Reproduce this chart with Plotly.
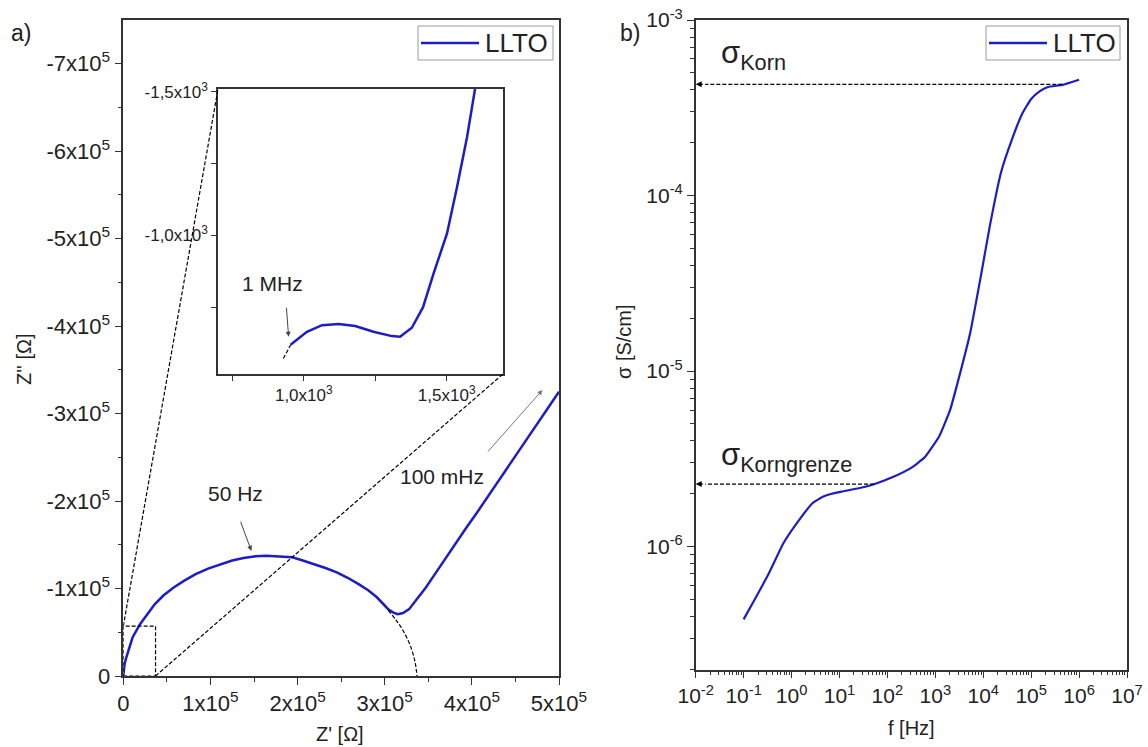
import numpy as np
import plotly.graph_objects as go

# ---------------- data ----------------
# Nyquist plot of LLTO (Z' and Z'' in Ohm)
z_re = [0, 0.004e5, 0.015e5, 0.034e5, 0.07e5, 0.106e5, 0.19e5, 0.27e5, 0.36e5, 0.46e5,
        0.574e5, 0.70e5, 0.83e5, 0.98e5, 1.13e5, 1.25e5, 1.38e5, 1.52e5, 1.64e5, 1.79e5,
        1.94e5, 2.06e5, 2.19e5, 2.32e5, 2.45e5, 2.58e5, 2.70e5, 2.81e5, 2.91e5, 2.98e5,
        3.04e5, 3.10e5, 3.15e5, 3.21e5, 3.28e5, 3.37e5, 3.47e5, 3.58e5, 3.68e5, 3.81e5,
        3.94e5, 4.06e5, 4.19e5, 4.32e5, 4.45e5, 4.58e5, 4.70e5, 4.85e5, 5.0e5]
z_im = [0, -0.07e5, -0.14e5, -0.21e5, -0.33e5, -0.44e5, -0.59e5, -0.70e5, -0.82e5, -0.92e5,
        -1.01e5, -1.09e5, -1.165e5, -1.23e5, -1.28e5, -1.32e5, -1.35e5, -1.37e5, -1.376e5, -1.37e5,
        -1.357e5, -1.32e5, -1.28e5, -1.235e5, -1.185e5, -1.12e5, -1.05e5, -0.98e5, -0.90e5, -0.83e5,
        -0.764e5, -0.725e5, -0.707e5, -0.72e5, -0.764e5, -0.88e5, -1.01e5, -1.17e5, -1.32e5, -1.51e5,
        -1.70e5, -1.87e5, -2.06e5, -2.25e5, -2.44e5, -2.63e5, -2.81e5, -3.03e5, -3.25e5]

# extrapolated end of the first semicircle
arc_re = [3.04e5, 3.13e5, 3.21e5, 3.30e5, 3.35e5, 3.37e5]
arc_im = [-0.75e5, -0.64e5, -0.52e5, -0.33e5, -0.15e5, 0]

# zoomed region (high-frequency part)
zoom_re = [955, 1011, 1064, 1122, 1180, 1244, 1308, 1337, 1378, 1417, 1454, 1501, 1536, 1571, 1600]
zoom_im = [-620, -664, -687, -691, -684, -664, -649, -647, -678, -749, -867, -1006, -1168, -1341, -1515]
zoom_ext_re = [955, 927]
zoom_ext_im = [-620, -568]
zoom_box_re = 0.37e5
zoom_box_im = -0.57e5

# conductivity spectrum
freq = [0.1, 0.168, 0.337, 0.676, 1.36, 2.73, 4.6, 7.0, 11, 31.3, 52.5, 126, 302, 603, 1200,
        2040, 3160, 5370, 8910, 13800, 23400, 39800, 66100, 100000, 150000, 224000, 447000, 1000000]
sigma = [3.85e-7, 4.97e-7, 7.05e-7, 1.045e-6, 1.387e-6, 1.766e-6, 1.928e-6, 2.0e-6, 2.056e-6,
         2.178e-6, 2.265e-6, 2.483e-6, 2.793e-6, 3.228e-6, 4.236e-6, 6.01e-6, 9.33e-6,
         1.66e-5, 3.47e-5, 6.76e-5, 1.35e-4, 2.09e-4, 2.95e-4, 3.55e-4, 3.92e-4, 4.15e-4,
         4.27e-4, 4.57e-4]
sigma_korn = 4.3e-4
sigma_korngrenze = 2.27e-6
f_korn_start = 10 ** 5.65
f_korngrenze_start = 52.5

series_name = "LLTO"

# tick labels
main_x_vals = [0, 1e5, 2e5, 3e5, 4e5, 5e5]
main_x_text = ["0"] + [f"{k}x10<sup>5</sup>" for k in range(1, 6)]
main_y_vals = [0, -1e5, -2e5, -3e5, -4e5, -5e5, -6e5, -7e5]
main_y_text = ["0"] + [f"-{k}x10<sup>5</sup>" for k in range(1, 8)]
inset_x_vals = [750, 1000, 1250, 1500]
inset_x_text = ["", "1,0x10<sup>3</sup>", "", "1,5x10<sup>3</sup>"]
inset_y_vals = [-750, -1000, -1250, -1500]
inset_y_text = ["", "-1,0x10<sup>3</sup>", "", "-1,5x10<sup>3</sup>"]
f_vals = [10.0 ** e for e in range(-2, 8)]
f_text = [f"10<sup>{e}</sup>" for e in range(-2, 8)]
s_vals = [10.0 ** e for e in range(-6, -2)]
s_text = [f"10<sup>{e}</sup>" for e in range(-6, -2)]

# ---------------- layout geometry ----------------
W, H = 1148, 747
BLUE = "#1c1cc8"
INK = "#222222"
AX = "#333333"
FONT = "Liberation Sans, Arial, sans-serif"

main_xd = [123.3 / W, 559 / W]
main_yd = [(H - 676) / H, (H - 20) / H]
main_xr = [0, 5e5]
main_yr = [0, -7.5e5]
ins_xd = [218 / W, 503 / W]
ins_yd = [(H - 374) / H, (H - 89) / H]
ins_xr = [700, 1697]
ins_yr = [-517, -1510]
r_xd = [695.7 / W, 1127 / W]
r_yd = [(H - 669.5) / H, (H - 20) / H]


def px(x):
    return x / W


def py(y):
    return (H - y) / H


def paper_to_main(fx, fy):
    x = main_xr[0] + (fx - main_xd[0]) / (main_xd[1] - main_xd[0]) * (main_xr[1] - main_xr[0])
    y = main_yr[0] + (fy - main_yd[0]) / (main_yd[1] - main_yd[0]) * (main_yr[1] - main_yr[0])
    return x, y


fig = go.Figure()

# main Nyquist curve
fig.add_trace(go.Scatter(x=z_re, y=z_im, mode="lines", name=series_name, showlegend=False,
                         line=dict(color=BLUE, width=2.5), xaxis="x", yaxis="y"))
fig.add_trace(go.Scatter(x=arc_re, y=arc_im, mode="lines", showlegend=False,
                         line=dict(color="black", width=1.2, dash="4px,2px"),
                         line_shape="spline", xaxis="x", yaxis="y"))

# inset
fig.add_trace(go.Scatter(x=zoom_re, y=zoom_im, mode="lines", showlegend=False,
                         line=dict(color=BLUE, width=2.5), xaxis="x3", yaxis="y3"))
fig.add_trace(go.Scatter(x=zoom_ext_re, y=zoom_ext_im, mode="lines", showlegend=False,
                         line=dict(color="black", width=1.2, dash="4px,2px"),
                         xaxis="x3", yaxis="y3"))

# conductivity
fig.add_trace(go.Scatter(x=freq, y=sigma, mode="lines", name=series_name, showlegend=False,
                         line=dict(color=BLUE, width=2.2, shape="spline", smoothing=0.4),
                         xaxis="x2", yaxis="y2"))
fig.add_trace(go.Scatter(x=[f_korn_start, 10 ** -1.8], y=[sigma_korn, sigma_korn], mode="lines",
                         showlegend=False, line=dict(color="black", width=1.2, dash="4px,2px"),
                         xaxis="x2", yaxis="y2"))
fig.add_trace(go.Scatter(x=[f_korngrenze_start, 10 ** -1.8], y=[sigma_korngrenze, sigma_korngrenze],
                         mode="lines", showlegend=False,
                         line=dict(color="black", width=1.2, dash="4px,2px"),
                         xaxis="x2", yaxis="y2"))

axis_common = dict(showline=True, mirror=True, linecolor=AX, linewidth=1.5, showgrid=False,
                   zeroline=False, ticks="outside", tickcolor=AX, tickwidth=1.3, ticklen=7,
                   tickmode="array", automargin=False,
                   tickfont=dict(size=22, color=INK, family=FONT))

fig.update_layout(
    width=W, height=H, margin=dict(l=0, r=0, t=0, b=0),
    paper_bgcolor="white", plot_bgcolor="white",
    font=dict(family=FONT, color=INK),
    showlegend=False,
    xaxis=dict(axis_common, domain=main_xd, range=main_xr, tickvals=main_x_vals,
               ticktext=main_x_text, anchor="y",
               minor=dict(tickvals=[0.5e5, 1.5e5, 2.5e5, 3.5e5, 4.5e5], ticks="outside",
                          ticklen=4, tickcolor=AX)),
    yaxis=dict(axis_common, domain=main_yd, range=main_yr, tickvals=main_y_vals,
               ticktext=main_y_text, anchor="x",
               minor=dict(tickvals=[-0.5e5, -1.5e5, -2.5e5, -3.5e5, -4.5e5, -5.5e5, -6.5e5],
                          ticks="outside", ticklen=4, tickcolor=AX)),
    xaxis3=dict(axis_common, domain=ins_xd, range=ins_xr, tickvals=inset_x_vals,
                ticktext=inset_x_text, anchor="y3", ticklen=5,
                tickfont=dict(size=17, color=INK, family=FONT)),
    yaxis3=dict(axis_common, domain=ins_yd, range=ins_yr, tickvals=inset_y_vals,
                ticktext=inset_y_text, anchor="x3", ticklen=5,
                tickfont=dict(size=17, color=INK, family=FONT)),
    xaxis2=dict(axis_common, type="log", domain=r_xd, range=[-2, 7], tickvals=f_vals,
                ticktext=f_text, anchor="y2", tickfont=dict(size=21, color=INK, family=FONT),
                minor=dict(tickvals=[k * 10.0 ** e for e in range(-2, 7) for k in range(2, 10)],
                           ticks="outside", ticklen=4, tickcolor=AX)),
    yaxis2=dict(axis_common, type="log", domain=r_yd, range=[-6.70, -3.0], tickvals=s_vals,
                ticktext=s_text, anchor="x2", tickfont=dict(size=21, color=INK, family=FONT),
                minor=dict(tickvals=[k * 10.0 ** e for e in range(-7, -3) for k in range(2, 10)],
                           ticks="outside", ticklen=4, tickcolor=AX)),
)

# legend boxes (one per panel)
for bx0, bx1 in ((418, 553), (986, 1120)):
    fig.add_shape(type="rect", xref="paper", yref="paper", x0=px(bx0), x1=px(bx1),
                  y0=py(60), y1=py(26), line=dict(color="#9a9a9a", width=1),
                  fillcolor="white", layer="above")
    fig.add_shape(type="line", xref="paper", yref="paper", x0=px(bx0 + 3), x1=px(bx0 + 61),
                  y0=py(43), y1=py(43), line=dict(color=BLUE, width=2.5), layer="above")
    fig.add_annotation(xref="paper", yref="paper", x=px(bx0 + 65), y=py(43.5), text=series_name,
                       showarrow=False, xanchor="left", yanchor="middle",
                       font=dict(size=26, color=INK, family=FONT))

# dashed zoom box and connectors to the inset
dash_line = dict(color="black", width=1.2, dash="4px,2px")
fig.add_shape(type="rect", xref="x", yref="y", x0=0, y0=0, x1=zoom_box_re, y1=zoom_box_im,
              line=dash_line)
tl = paper_to_main(ins_xd[0], ins_yd[1])
br = paper_to_main(ins_xd[1], ins_yd[0])
fig.add_shape(type="line", xref="x", yref="y", x0=0, y0=zoom_box_im, x1=tl[0], y1=tl[1],
              line=dash_line)
fig.add_shape(type="line", xref="x", yref="y", x0=zoom_box_re, y0=0, x1=br[0], y1=br[1],
              line=dash_line)

ann_font = dict(size=21, color=INK, family=FONT)
# frequency labels in the Nyquist plot
fig.add_annotation(xref="x", yref="y", x=1.29e5, y=-2.09e5, text="50 Hz", showarrow=False,
                   font=ann_font)
fig.add_annotation(xref="x", yref="y", axref="x", ayref="y", x=1.47e5, y=-1.43e5,
                   ax=1.34e5, ay=-1.78e5, text="", showarrow=True, arrowhead=2,
                   arrowsize=1, arrowwidth=1, arrowcolor="#444")
fig.add_annotation(xref="x", yref="y", x=3.66e5, y=-2.28e5, text="100 mHz", showarrow=False,
                   font=ann_font)
fig.add_annotation(xref="x", yref="y", axref="x", ayref="y", x=4.81e5, y=-3.27e5,
                   ax=4.17e5, ay=-2.55e5, text="", showarrow=True, arrowhead=2,
                   arrowsize=1, arrowwidth=1, arrowcolor="#777")
fig.add_annotation(xref="x3", yref="y3", x=889, y=-834, text="1 MHz", showarrow=False,
                   font=ann_font)
fig.add_annotation(xref="x3", yref="y3", axref="x3", ayref="y3", x=947, y=-647,
                   ax=939, ay=-753, text="", showarrow=True, arrowhead=2,
                   arrowsize=1, arrowwidth=1, arrowcolor="#444")

# conductivity plateau labels
fig.add_annotation(xref="x2", yref="y2", x=-2, y=np.log10(sigma_korn), axref="x2", ayref="y2",
                   ax=-1.82, ay=np.log10(sigma_korn), text="", showarrow=True, arrowhead=2,
                   arrowsize=1, arrowwidth=1.2, arrowcolor="black")
fig.add_annotation(xref="x2", yref="y2", x=-2, y=np.log10(sigma_korngrenze), axref="x2",
                   ayref="y2", ax=-1.82, ay=np.log10(sigma_korngrenze), text="", showarrow=True,
                   arrowhead=2, arrowsize=1, arrowwidth=1.2, arrowcolor="black")
fig.add_annotation(xref="x2", yref="y2", x=-1.52, y=np.log10(sigma_korn) + 0.04,
                   text="σ<sub>Korn</sub>", showarrow=False, xanchor="left", yanchor="bottom",
                   font=dict(size=31, color=INK, family=FONT))
fig.add_annotation(xref="x2", yref="y2", x=-1.52, y=np.log10(sigma_korngrenze) + 0.03,
                   text="σ<sub>Korngrenze</sub>", showarrow=False, xanchor="left",
                   yanchor="bottom", font=dict(size=31, color=INK, family=FONT))

# axis titles and panel labels
title_font = dict(size=20, color=INK, family=FONT)
mid = dict(showarrow=False, xanchor="center", yanchor="middle", xref="paper", yref="paper")
fig.add_annotation(mid, x=px(340), y=py(734), text="Z' [Ω]", font=title_font)
fig.add_annotation(mid, x=px(24), y=py(360), text="Z'' [Ω]", textangle=-90, font=title_font)
fig.add_annotation(mid, x=px(911), y=py(728), text="f [Hz]", font=title_font)
fig.add_annotation(mid, x=px(624), y=py(342), text="σ [S/cm]", textangle=-90, font=title_font)
fig.add_annotation(mid, x=px(21), y=py(33), text="a)", font=dict(size=23, color=INK, family=FONT))
fig.add_annotation(mid, x=px(630), y=py(33), text="b)", font=dict(size=23, color=INK, family=FONT))

fig.write_html("out.html")
